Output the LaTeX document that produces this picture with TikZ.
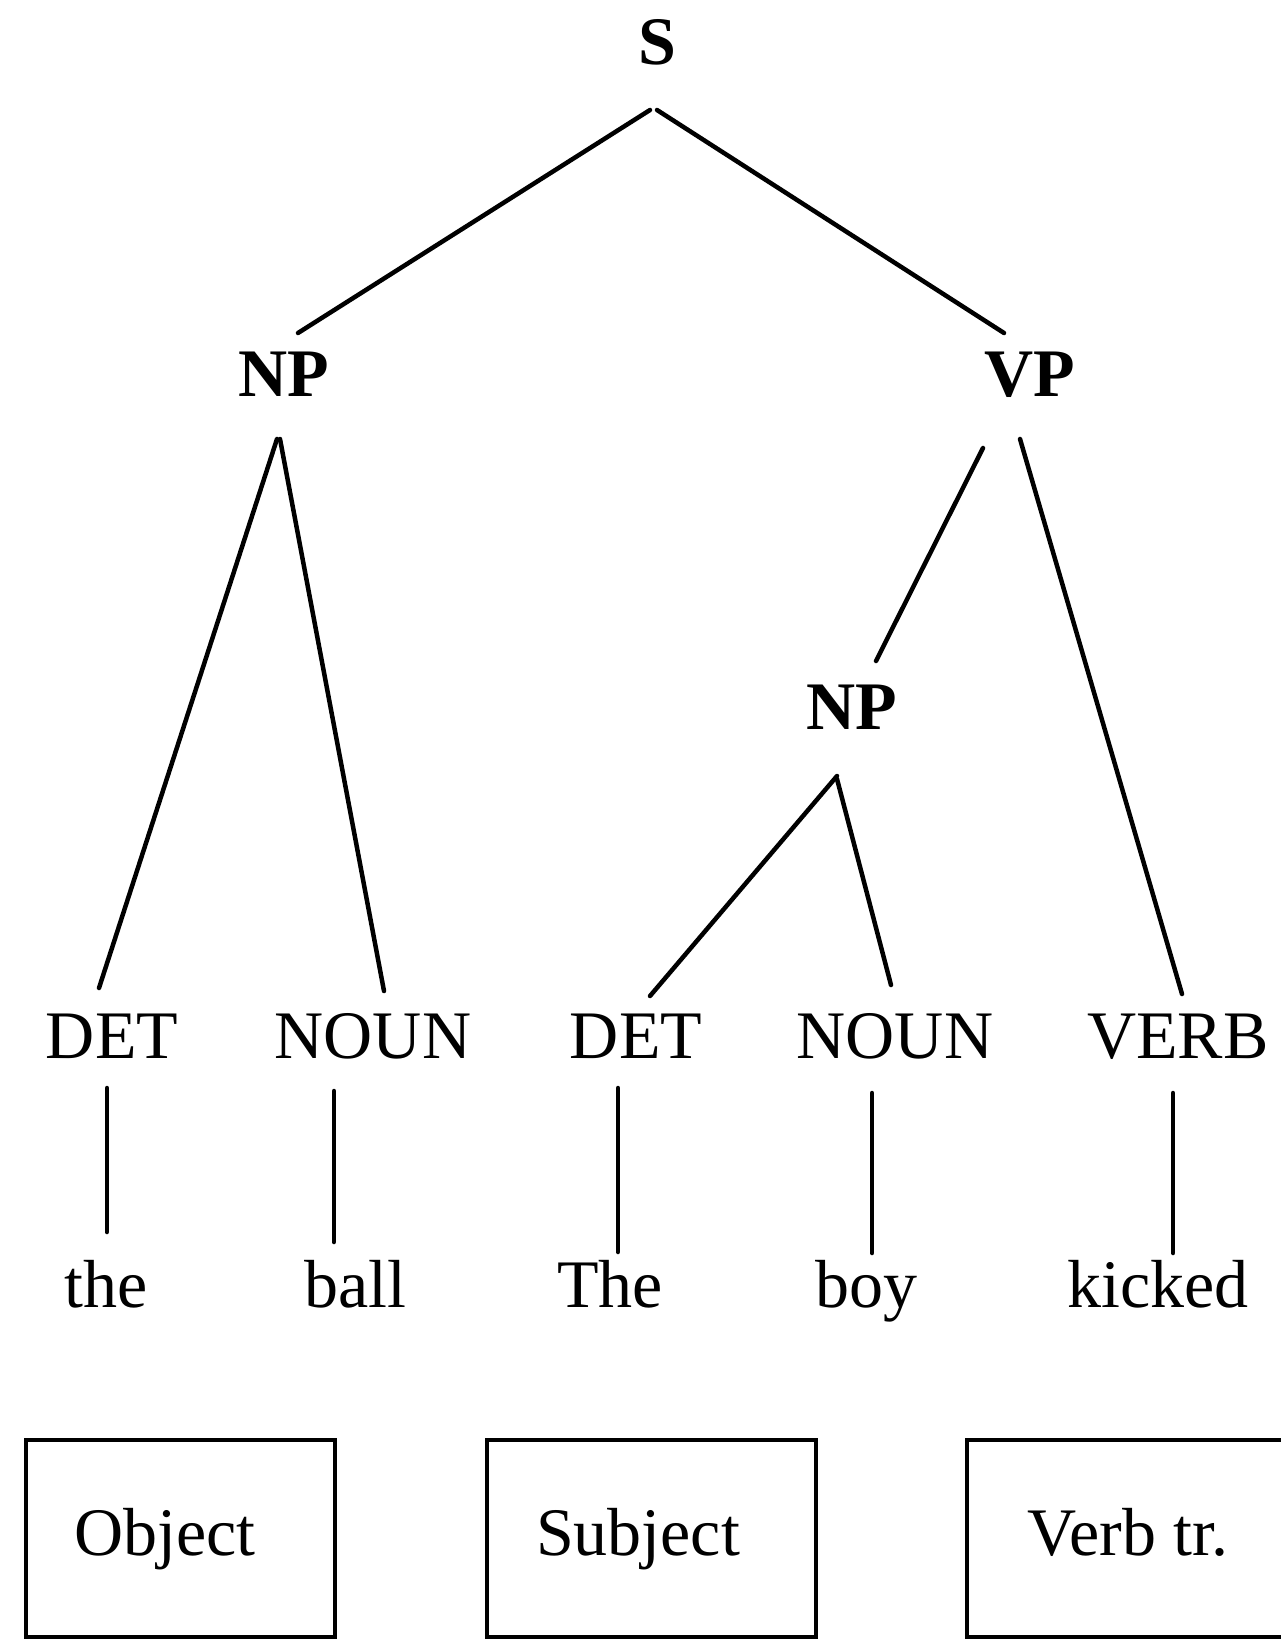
\documentclass[tikz,border=0pt]{standalone}
\usepackage{fontspec}
\setmainfont{Liberation Serif}
\usetikzlibrary{calc}
\tikzset{
  lbl/.style={anchor=base,inner sep=0pt,font=\fontsize{68}{80}\selectfont},
  cat/.style={lbl,font=\fontsize{68}{80}\selectfont\bfseries},
  edge/.style={line width=4.5pt,line cap=round},
}
\begin{document}
\begin{tikzpicture}[x=1pt,y=-1pt]
\useasboundingbox[fill=white] (0,0) rectangle (1280,1640);
% categories
\node[cat] (S) at (657,65) {S};
\node[cat] (NPa) at (284,396) {NP};
\node[cat] (VP) at (1030,396) {VP};
\node[cat] (NPb) at (852,729) {NP};
\node[lbl] (DETa) at (112,1058) {DET};
\node[lbl] (NOUNa) at (373,1058) {NOUN};
\node[lbl] (DETb) at (636,1058) {DET};
\node[lbl] (NOUNb) at (895,1058) {NOUN};
\node[lbl] (VERB) at (1178,1058) {VERB};
% words
\node[lbl] (w1) at (106,1307) {the};
\node[lbl] (w2) at (355,1307) {ball};
\node[lbl] (w3) at (610,1307) {The};
\node[lbl] (w4) at (866,1307) {boy};
\node[lbl] (w5) at (1158,1307) {kicked};
% tree edges
\draw[edge] ($(S.base)+(-7,45)$) -- ($(NPa.base)+(14,-63)$);
\draw[edge] ($(S.base)+(0,45)$) -- ($(VP.base)+(-26,-63)$);
\draw[edge] ($(NPa.base)+(-7,43)$) -- ($(DETa.base)+(-13,-70)$);
\draw[edge] ($(NPa.base)+(-4,43)$) -- ($(NOUNa.base)+(11,-67)$);
\draw[edge] ($(VP.base)+(-47,52)$) -- ($(NPb.base)+(24,-68)$);
\draw[edge] ($(VP.base)+(-10,43)$) -- ($(VERB.base)+(4,-64)$);
\draw[edge] ($(NPb.base)+(-15,47)$) -- ($(DETb.base)+(14,-62)$);
\draw[edge] ($(NPb.base)+(-15,50)$) -- ($(NOUNb.base)+(-4,-73)$);
% word links
\draw[edge] ($(DETa.base)+(-5,30)$) -- ($(w1.base)+(1,-75)$);
\draw[edge] ($(NOUNa.base)+(-39,33)$) -- ($(w2.base)+(-21,-65)$);
\draw[edge] ($(DETb.base)+(-18,30)$) -- ($(w3.base)+(8,-55)$);
\draw[edge] ($(NOUNb.base)+(-23,35)$) -- ($(w4.base)+(6,-54)$);
\draw[edge] ($(VERB.base)+(-5,35)$) -- ($(w5.base)+(15,-54)$);
% role boxes
\draw[line width=4.5pt] (26,1440) rectangle (335,1637);
\draw[line width=4.5pt] (487,1440) rectangle (816,1637);
\draw[line width=4.5pt] (967,1440) rectangle (1300,1637);
\node[lbl] (obj) at (165,1555) {Object};
\node[lbl] (subj) at (638,1555) {Subject};
\node[lbl] (verb) at (1128,1555) {Verb tr.};
\end{tikzpicture}
\end{document}
